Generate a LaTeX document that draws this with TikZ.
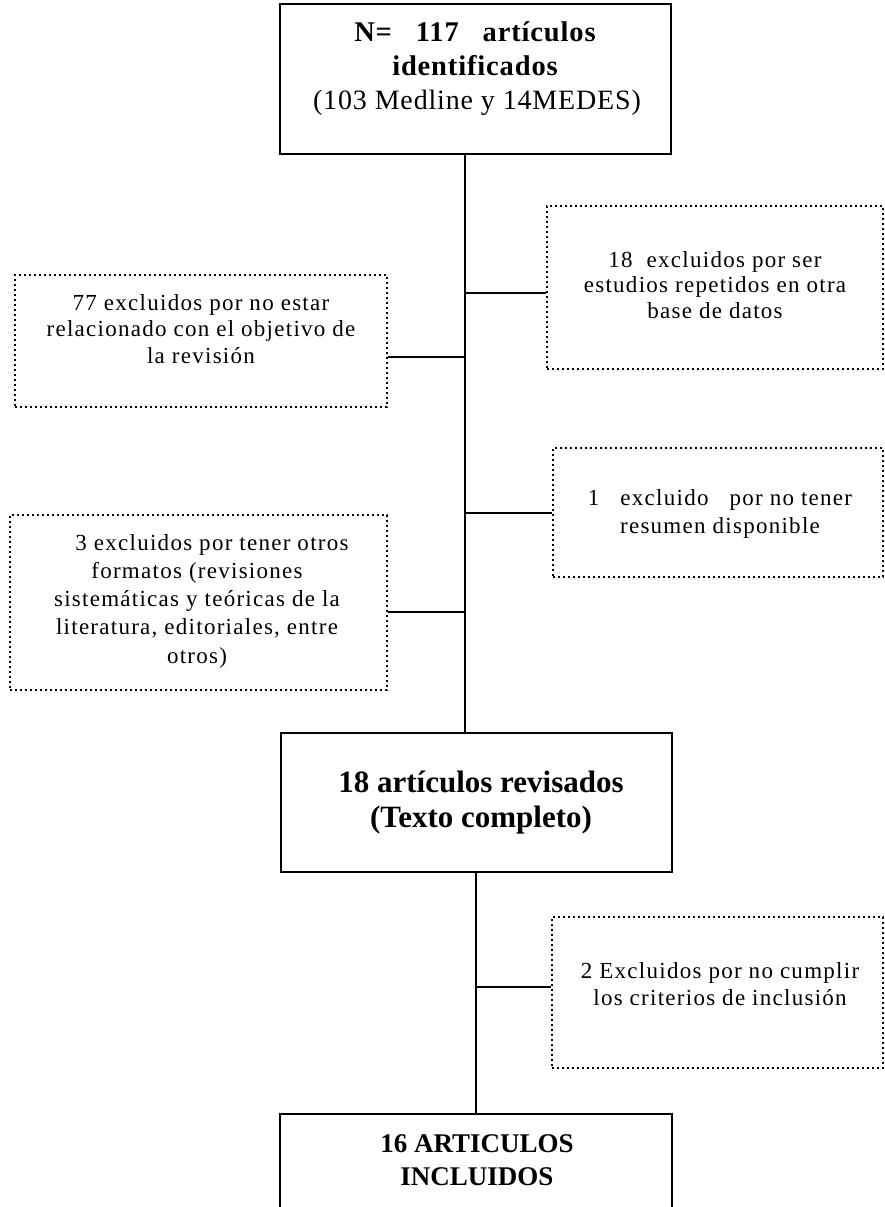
\documentclass[tikz,border=0pt]{standalone}
\usepackage{fontspec}
\setmainfont{Liberation Serif}
\newfontfamily\spacedfont[LetterSpace=5.5]{Liberation Serif}
\newfontfamily\bigfont[LetterSpace=3]{Liberation Serif}
\begin{document}
\begin{tikzpicture}[x=1pt,y=-1pt,
  solidbox/.style={draw, line width=1.8pt, inner sep=0pt},
  dotbox/.style={draw, line width=2.8pt, dash pattern=on 2.4pt off 2.6pt, inner sep=0pt},
  conn/.style={line width=1.8pt},
  txt/.style={align=center, inner sep=0pt, anchor=base},
  bigtxt/.style={align=center, inner sep=0pt, anchor=base}]
\useasboundingbox (0,0) rectangle (885,1207);
\clip (0,0) rectangle (885,1207);
% main boxes
\node[solidbox, minimum width=391pt, minimum height=150pt] (top) at (475.5,79) {};
\node[solidbox, minimum width=391pt, minimum height=139pt] (rev) at (476.5,802.5) {};
\node[solidbox, minimum width=392pt, minimum height=120pt] (inc) at (476,1174) {};
% excluded boxes
\node[dotbox, minimum width=336pt, minimum height=163pt] (ex1) at (715,287.5) {};
\node[dotbox, minimum width=372pt, minimum height=132pt] (ex2) at (201,341) {};
\node[dotbox, minimum width=330pt, minimum height=129pt] (ex3) at (718,512.5) {};
\node[dotbox, minimum width=377pt, minimum height=175pt] (ex4) at (198.5,602.5) {};
\node[dotbox, minimum width=331pt, minimum height=151pt] (ex5) at (717.5,992.5) {};
% trunk positions
\coordinate (tr1) at (465,0);
\coordinate (tr2) at (476,0);
% connectors
\draw[conn] (top.south -| tr1) -- (rev.north -| tr1);
\draw[conn] (rev.south -| tr2) -- (inc.north -| tr2);
\draw[conn] ([yshift=-5.5pt]ex1.west) -- ([yshift=-5.5pt]ex1.west -| tr1);
\draw[conn] ([yshift=-16pt]ex2.east) -- ([yshift=-16pt]ex2.east -| tr1);
\draw[conn] ([yshift=-0.5pt]ex3.west) -- ([yshift=-0.5pt]ex3.west -| tr1);
\draw[conn] ([yshift=-9.5pt]ex4.east) -- ([yshift=-9.5pt]ex4.east -| tr1);
\draw[conn] ([yshift=5.5pt]ex5.west) -- ([yshift=5.5pt]ex5.west -| tr2);
% texts (anchor base = baseline of last line)
\node[bigtxt, font=\bigfont\bfseries\fontsize{28.5}{33}\selectfont] (ttop) at (475,75) {N=\ \ \ 117\ \ \ artículos\\identificados};
\node[txt, font=\bigfont\fontsize{28}{34}\selectfont] (ttop2) at (477,109) {(103 Medline y 14MEDES)};
\node[bigtxt, font=\bfseries\fontsize{31}{35}\selectfont] (trev) at (481,827) {18 artículos revisados\\(Texto completo)};
\node[bigtxt, font=\bfseries\fontsize{27}{33}\selectfont] (tinc) at (477,1185) {16 ARTICULOS\\INCLUIDOS};
\node[txt, font=\spacedfont\fontsize{23}{25.5}\selectfont] (tex1) at (715,318) {18\ \ excluidos por ser\\estudios repetidos en otra\\base de datos};
\node[txt, font=\spacedfont\fontsize{23}{26.5}\selectfont] (tex2) at (201,363) {77 excluidos por no estar\\relacionado con el objetivo de\\la revisión};
\node[txt, font=\spacedfont\fontsize{23}{28}\selectfont] (tex3) at (720,533) {1\ \ \ excluido\ \ \ por no tener\\resumen disponible};
\node[txt, font=\spacedfont\fontsize{23}{28.2}\selectfont] (tex4) at (197,663) {\hspace*{30pt}3 excluidos por tener otros\\formatos (revisiones\\sistemáticas y teóricas de la\\literatura, editoriales, entre\\otros)};
\node[txt, font=\spacedfont\fontsize{23}{27}\selectfont] (tex5) at (720,1005) {2 Excluidos por no cumplir\\los criterios de inclusión};
\end{tikzpicture}
\end{document}
